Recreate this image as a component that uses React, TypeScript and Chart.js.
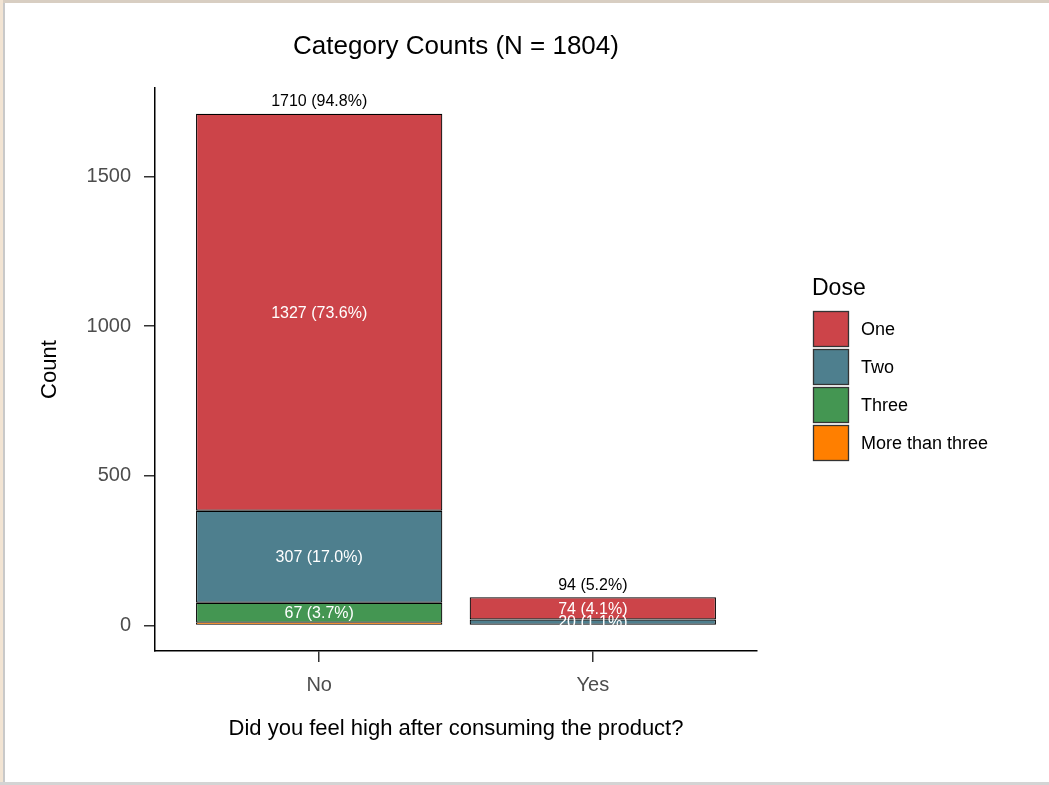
import React, { useEffect, useRef } from "react";
import { Chart, registerables } from "chart.js";

Chart.register(...registerables);

// ---- Data ----
const categories = ["No", "Yes"];
const categoryPositions = [1, 2];
const doseLabels = ["One", "Two", "Three", "More than three"];
const oneCounts: (number | null)[] = [1327, 74];
const twoCounts: (number | null)[] = [307, 20];
const threeCounts: (number | null)[] = [67, null];
const moreCounts: (number | null)[] = [9, null];
const totalN = 1804;
const yTickValues = [0, 500, 1000, 1500];
const doseColors = ["#CC4449", "#4E7F8E", "#449652", "#FF7F00"];

const seriesValues = [oneCounts, twoCounts, threeCounts, moreCounts];
const FONT = "'Liberation Sans', Arial, Helvetica, sans-serif";

const pctLabel = (v: number) => `${v} (${((v / totalN) * 100).toFixed(1)}%)`;

const labelsPlugin = {
  id: "barLabels",
  afterDatasetsDraw(chart: any) {
    const ctx = chart.ctx;
    ctx.save();
    ctx.font = `16px ${FONT}`;
    ctx.textAlign = "center";
    ctx.textBaseline = "middle";
    ctx.fillStyle = "#ffffff";
    chart.data.datasets.forEach((ds: any, i: number) => {
      const meta = chart.getDatasetMeta(i);
      meta.data.forEach((el: any, j: number) => {
        const v = ds.data[j]?.y;
        if (v == null || (v / totalN) * 100 < 1) return;
        const props = el.getProps(["x", "y", "base"], true);
        ctx.fillText(pctLabel(v), props.x, (props.y + props.base) / 2 + 1);
      });
    });
    // totals
    ctx.fillStyle = "#000000";
    const xs = chart.scales.x;
    const ys = chart.scales.y;
    categoryPositions.forEach((pos, j) => {
      const total = seriesValues.reduce((s, arr) => s + (arr[j] ?? 0), 0);
      ctx.fillText(pctLabel(total), xs.getPixelForValue(pos), ys.getPixelForValue(total) - 12);
    });
    ctx.restore();
  },
};

const legendPlugin = {
  id: "doseLegend",
  afterDraw(chart: any) {
    const ctx = chart.ctx;
    ctx.save();
    const left = 813;
    ctx.fillStyle = "#000";
    ctx.textAlign = "left";
    ctx.textBaseline = "middle";
    ctx.font = `23px ${FONT}`;
    ctx.fillText("Dose", left - 1, 289);
    ctx.font = `18px ${FONT}`;
    doseLabels.forEach((label, i) => {
      const top = 311 + i * 38;
      ctx.fillStyle = doseColors[i];
      ctx.fillRect(left, top, 35, 35);
      ctx.strokeStyle = "#333333";
      ctx.lineWidth = 1.3;
      ctx.strokeRect(left + 0.5, top + 0.5, 35, 35);
      ctx.fillStyle = "#000";
      ctx.fillText(label, 861, top + 19);
    });
    ctx.restore();
  },
};

export default function App() {
  const ref = useRef<HTMLCanvasElement>(null);
  useEffect(() => {
    document.body.style.margin = "0";
    // ggplot stacks the first level on top, so datasets are added bottom-up
    const datasets = doseLabels
      .map((label, i) => ({
        label,
        data: categoryPositions
          .map((x, j) => ({ x, y: seriesValues[i][j] }))
          .filter((d) => d.y != null),
        backgroundColor: doseColors[i],
        borderColor: "#000000",
        borderWidth:
          i === doseLabels.length - 1
            ? { top: 0, bottom: 1.2, left: 1.2, right: 1.2 }
            : 1.2,
        borderSkipped: false as const,
        barPercentage: 0.9,
        categoryPercentage: 1,
      }))
      .reverse();
    const chart = new Chart(ref.current!, {
      type: "bar",
      data: { datasets },
      options: {
        animation: false,
        responsive: false,
        devicePixelRatio: 1,
        layout: { padding: { left: 0, right: 1049 - 757, top: 0, bottom: 0 } },
        plugins: {
          legend: { display: false },
          tooltip: { enabled: false },
          title: {
            display: true,
            text: "Category Counts (N = 1804)",
            fullSize: false,
            color: "#000",
            font: { family: FONT, size: 26, weight: "normal" as any },
            padding: { top: 31, bottom: 26 },
          },
        },
        scales: {
          x: {
            type: "linear",
            stacked: true,
            offset: false,
            min: 0.4,
            max: 2.6,
            afterBuildTicks: (s: any) => {
              s.ticks = categoryPositions.map((v) => ({ value: v }));
            },
            afterFit: (s: any) => {
              s.height = 134;
            },
            ticks: {
              autoSkip: false,
              color: "#4d4d4d",
              font: { family: FONT, size: 20 },
              padding: 11,
              maxRotation: 0,
              callback: (_v: any, i: number) => categories[i],
            },
            grid: {
              display: true,
              offset: false,
              drawOnChartArea: false,
              drawTicks: true,
              tickLength: 11,
              color: "#333333",
              lineWidth: 1.5,
            },
            border: { display: true, color: "#000", width: 1.5 },
            title: {
              display: true,
              text: "Did you feel high after consuming the product?",
              color: "#000",
              font: { family: FONT, size: 22 },
              padding: { top: 0, bottom: 43 },
            },
          },
          y: {
            type: "linear",
            stacked: true,
            min: -85.5,
            max: 1795.5,
            afterBuildTicks: (s: any) => {
              s.ticks = yTickValues.map((v) => ({ value: v }));
            },
            afterFit: (s: any) => {
              s.width = 155;
            },
            ticks: {
              color: "#4d4d4d",
              font: { family: FONT, size: 20 },
              padding: 13,
              callback: (v: any) => String(v),
            },
            grid: {
              display: true,
              drawOnChartArea: false,
              drawTicks: true,
              tickLength: 11,
              color: "#333333",
              lineWidth: 1.5,
            },
            border: { display: true, color: "#000", width: 1.5 },
            title: {
              display: true,
              text: "Count",
              color: "#000",
              font: { family: FONT, size: 22 },
              padding: { top: 37, bottom: 0 },
            },
          },
        },
      },
      plugins: [labelsPlugin, legendPlugin],
    });
    return () => chart.destroy();
  }, []);

  return (
    <div style={{ position: "relative", width: 1049, height: 785, background: "#fff", overflow: "hidden" }}>
      <canvas ref={ref} width={1049} height={785} style={{ display: "block", width: 1049, height: 785 }} />
      <div style={{ position: "absolute", left: 0, top: 0, width: 1049, height: 3, background: "#d8cec2" }} />
      <div style={{ position: "absolute", left: 0, top: 0, width: 3, height: 785, background: "#f2e4d3" }} />
      <div style={{ position: "absolute", left: 3, top: 3, width: 2, height: 782, background: "#c9c9c9" }} />
      <div style={{ position: "absolute", left: 0, bottom: 0, width: 1049, height: 3, background: "#d4d4d4" }} />
    </div>
  );
}
